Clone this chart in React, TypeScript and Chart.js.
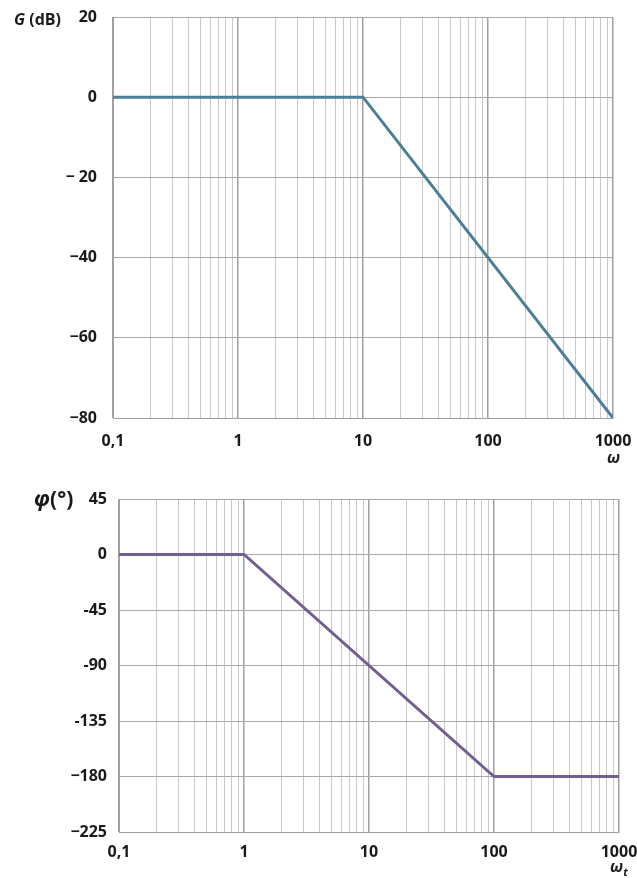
import React, { useEffect, useRef } from "react";
import { Chart, registerables } from "chart.js";
Chart.register(...registerables);

// ---- data ----
const gainOmega = [0.1, 10, 1000];
const gainDb = [0, 0, -80];
const phaseOmega = [0.1, 1, 100, 1000];
const phaseDeg = [0, 0, -180, -180];

const decades = [0.1, 1, 10, 100, 1000];
const decadeLabels = ["0,1", "1", "10", "100", "1000"];
const minorMultipliers = [2, 3, 4, 5, 6, 7, 8, 9];

const gainTicks = [20, 0, -20, -40, -60, -80];
const gainTickLabels = ["20", "0", "− 20", "−40", "−60", "−80"];
const phaseTicks = [45, 0, -45, -90, -135, -180, -225];
const phaseTickLabels = ["45", "0", "-45", "-90", "-135", "−180", "−225"];

const gridX: number[] = [];
decades.forEach((d, i) => {
  gridX.push(d);
  if (i < decades.length - 1) minorMultipliers.forEach((m) => gridX.push(Number((m * d).toPrecision(6))));
});

const isDecade = (v: number) => decades.some((d) => Math.abs(d - v) / d < 1e-6);
const FONT = { family: "'Open Sans', 'DejaVu Sans', sans-serif", size: 16, weight: "bold" as any };

function makeConfig(opts: {
  xs: number[]; ys: number[]; color: string; yMin: number; yMax: number;
  yTicks: number[]; yLabels: string[]; padTop: number; padRight: number;
  yWidth: number; xHeight: number; yPad: number; xPad: number;
}) {
  return {
    type: "line" as const,
    data: {
      datasets: [{
        data: opts.xs.map((x, i) => ({ x, y: opts.ys[i] })),
        borderColor: opts.color,
        borderWidth: 3,
        pointRadius: 0,
        tension: 0,
        fill: false,
      }],
    },
    options: {
      animation: false as const,
      responsive: false,
      devicePixelRatio: 1,
      layout: { padding: { top: opts.padTop, right: opts.padRight, left: 0, bottom: 0 } },
      plugins: { legend: { display: false }, tooltip: { enabled: false } },
      scales: {
        x: {
          type: "logarithmic" as const,
          min: 0.1,
          max: 1000,
          afterBuildTicks: (s: any) => { s.ticks = gridX.map((v) => ({ value: v, major: isDecade(v) })); },
          afterFit: (s: any) => { s.height = opts.xHeight; s.paddingLeft = 0; s.paddingRight = 0; },
          ticks: {
            autoSkip: false,
            maxRotation: 0,
            padding: opts.xPad,
            color: "#1a1a1a",
            font: FONT,
            callback: (v: any) => {
              const i = decades.findIndex((d) => Math.abs(d - v) / d < 1e-6);
              return i >= 0 ? decadeLabels[i] : "";
            },
          },
          grid: {
            drawTicks: false,
            color: (c: any) => (c.tick && isDecade(c.tick.value) ? "#a0a0a0" : "#c8c8c8"),
            lineWidth: (c: any) => (c.tick && isDecade(c.tick.value) ? 1.5 : 1),
          },
          border: { display: true, color: "#a0a0a0" },
        },
        y: {
          min: opts.yMin,
          max: opts.yMax,
          afterBuildTicks: (s: any) => { s.ticks = opts.yTicks.map((v) => ({ value: v })); },
          afterFit: (s: any) => { s.width = opts.yWidth; s.paddingTop = 0; s.paddingBottom = 0; },
          ticks: {
            padding: opts.yPad,
            color: "#1a1a1a",
            font: FONT,
            callback: (v: any) => {
              const i = opts.yTicks.indexOf(v);
              return i >= 0 ? opts.yLabels[i] : "";
            },
          },
          grid: { drawTicks: false, color: "#a8a8a8", lineWidth: 1 },
          border: { display: true, color: "#a0a0a0" },
        },
      },
    },
  };
}

export default function App() {
  const topRef = useRef<HTMLCanvasElement>(null);
  const botRef = useRef<HTMLCanvasElement>(null);

  useEffect(() => {
    const c1 = new Chart(topRef.current!, makeConfig({
      xs: gainOmega, ys: gainDb, color: "#4d7e98", yMin: -80, yMax: 20,
      yTicks: gainTicks, yLabels: gainTickLabels, padTop: 17, padRight: 24,
      yWidth: 113, xHeight: 52, yPad: 16, xPad: 14,
    }) as any);
    const c2 = new Chart(botRef.current!, makeConfig({
      xs: phaseOmega, ys: phaseDeg, color: "#725e90", yMin: -225, yMax: 45,
      yTicks: phaseTicks, yLabels: phaseTickLabels, padTop: 29, padRight: 18,
      yWidth: 119, xHeight: 46, yPad: 12, xPad: 11,
    }) as any);
    return () => { c1.destroy(); c2.destroy(); };
  }, []);

  const txt: React.CSSProperties = {
    position: "absolute",
    fontFamily: "'Open Sans', 'DejaVu Sans', sans-serif",
    color: "#1a1a1a",
    fontWeight: 700,
    whiteSpace: "nowrap",
    lineHeight: 1,
  };

  return (
    <div style={{ position: "absolute", left: 0, top: 0, width: 637, height: 878, background: "#fff", overflow: "hidden" }}>
      <canvas ref={topRef} width={637} height={470} style={{ position: "absolute", left: 0, top: 0, width: 637, height: 470 }} />
      <canvas ref={botRef} width={637} height={408} style={{ position: "absolute", left: 0, top: 470, width: 637, height: 408 }} />
      <div style={{ ...txt, left: 14, top: 11, fontSize: 16 }}>
        <i>G</i> (dB)
      </div>
      <div style={{ ...txt, left: 607, top: 449, fontSize: 16 }}>
        <i>ω</i>
      </div>
      <div style={{ ...txt, left: 34, top: 488, fontSize: 21 }}>
        <i>φ</i>(°)
      </div>
      <div style={{ ...txt, left: 610, top: 858, fontSize: 16 }}>
        <i>ω</i><sub style={{ fontSize: 11 }}><i>t</i></sub>
      </div>
    </div>
  );
}
